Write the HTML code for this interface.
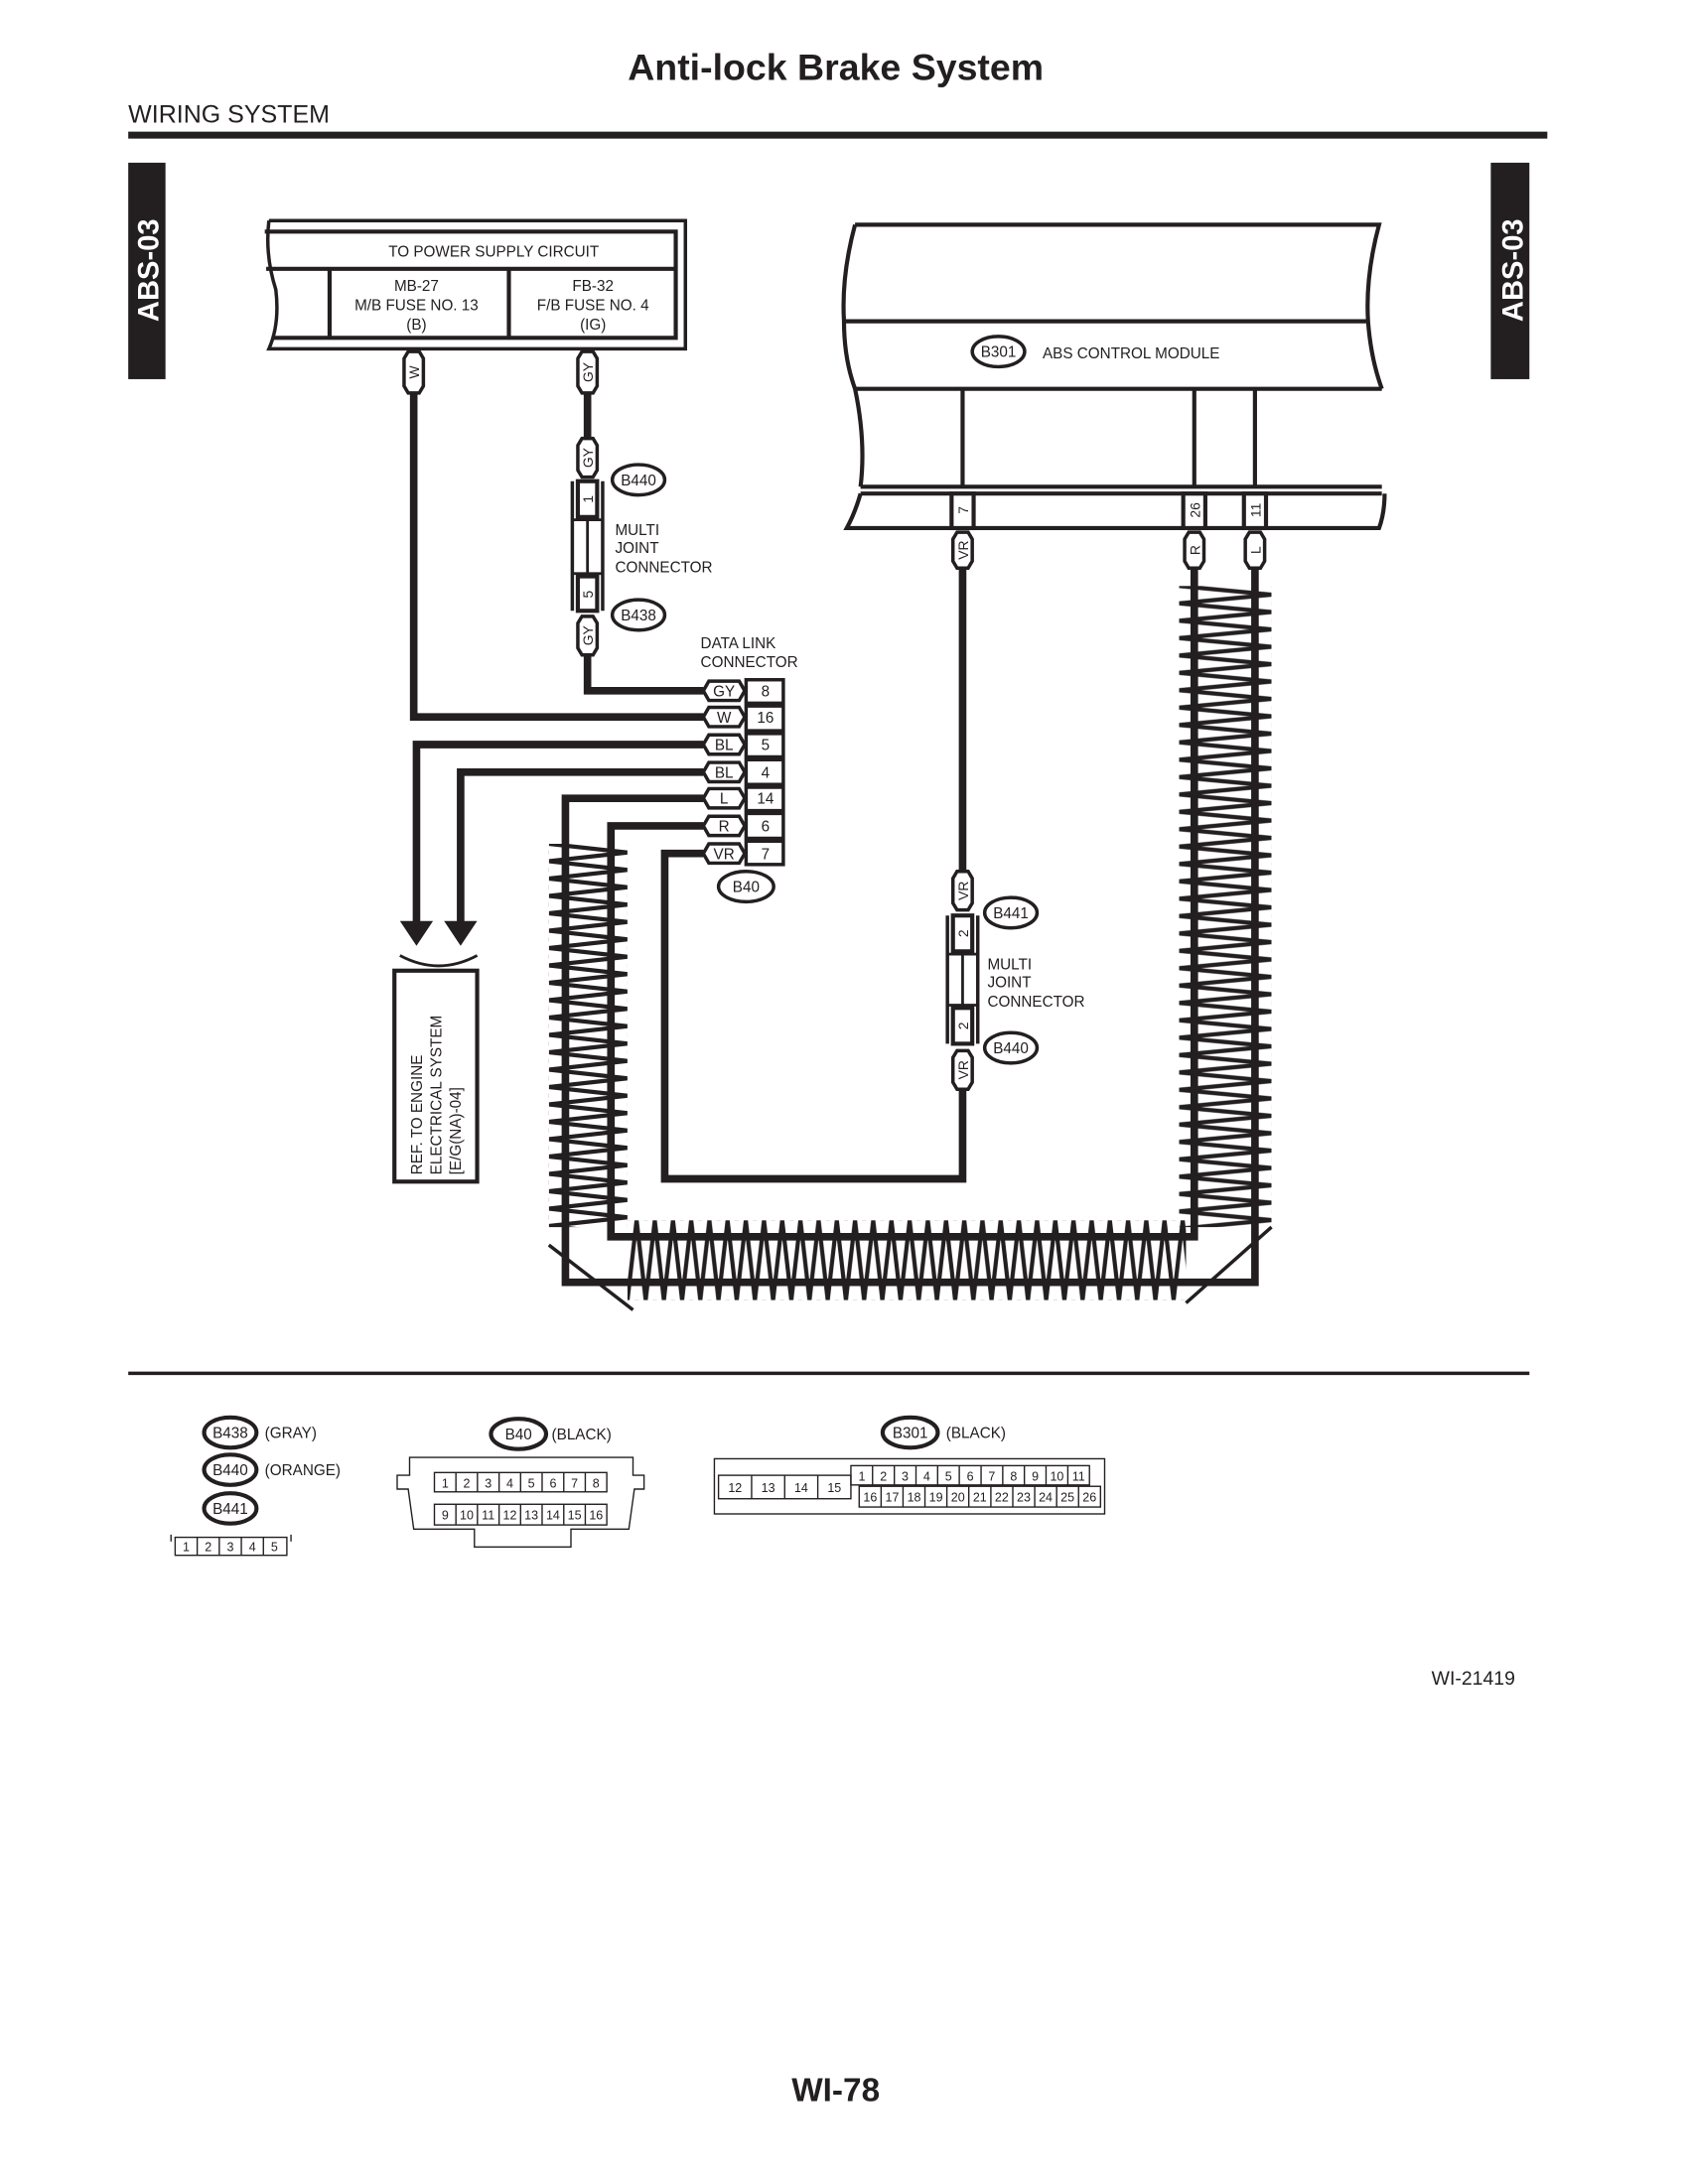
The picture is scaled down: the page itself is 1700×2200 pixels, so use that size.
<!DOCTYPE html>
<html><head><meta charset="utf-8"><style>
html,body{margin:0;padding:0;background:#fff}
svg{display:block}
text{font-family:"Liberation Sans",Arial,sans-serif;fill:#231f20}
</style></head><body>
<svg width="1700" height="2200" viewBox="0 0 1224 1584" xmlns="http://www.w3.org/2000/svg">
<defs>
<pattern id="zv" patternUnits="userSpaceOnUse" x="398" y="612" width="57" height="12.6">
<path d="M0,0 L57,6.3 L0,12.6" fill="none" stroke="#231f20" stroke-width="3"/>
</pattern>
<pattern id="zv2" patternUnits="userSpaceOnUse" x="855" y="425" width="67" height="12.6">
<path d="M0,0 L67,6.3 L0,12.6" fill="none" stroke="#231f20" stroke-width="3"/>
</pattern>
<pattern id="zh" patternUnits="userSpaceOnUse" x="455" y="885" width="13.2" height="58">
<path d="M0,58 L6.6,0 L13.2,58" fill="none" stroke="#231f20" stroke-width="3"/>
</pattern>
</defs>
<g fill="none" stroke="#231f20">
<!-- header -->
<line x1="93" y1="98" x2="1122" y2="98" stroke-width="5"/>
</g>
<text x="606" y="58" font-size="27" font-weight="bold" text-anchor="middle">Anti-lock Brake System</text>
<text x="93" y="89" font-size="18">WIRING SYSTEM</text>
<rect x="93" y="118" width="27" height="157" fill="#231f20"/>
<rect x="1081" y="118" width="28" height="157" fill="#231f20"/>
<text transform="translate(115,196) rotate(-90)" font-size="21" font-weight="bold" text-anchor="middle" style="fill:#fff">ABS-03</text>
<text transform="translate(1104,196) rotate(-90)" font-size="21" font-weight="bold" text-anchor="middle" style="fill:#fff">ABS-03</text>

<!-- zigzags -->
<rect x="398" y="612" width="57" height="278" fill="url(#zv)"/>
<rect x="855" y="425" width="67" height="465" fill="url(#zv2)"/>
<rect x="455" y="885" width="405" height="58" fill="url(#zh)"/>

<g fill="none" stroke="#231f20" stroke-linejoin="miter">
<!-- power box -->
<path d="M195,160 L497,160 L497,253 L195,253 Q203,235 200,210 Q192,185 195,160" stroke-width="2.5"/>
<path d="M192,168 L490,168 L490,245 L197,245" stroke-width="3"/>
<line x1="193" y1="195" x2="490" y2="195" stroke-width="3"/>
<line x1="239" y1="195" x2="239" y2="245" stroke-width="3"/>
<line x1="369" y1="195" x2="369" y2="245" stroke-width="3"/>

<!-- module -->
<path d="M620,163 L1000,163 Q990,200 992,233 Q994,260 1002,282" stroke-width="3"/>
<path d="M620,163 Q610,200 612,233 Q612,260 620,282 Q628,320 624,353" stroke-width="3"/>
<line x1="612" y1="233" x2="992" y2="233" stroke-width="3"/>
<line x1="620" y1="282" x2="1002" y2="282" stroke-width="3"/>
<line x1="624" y1="353" x2="1002" y2="353" stroke-width="3"/>
<line x1="624" y1="358" x2="1002" y2="358" stroke-width="3"/>
<path d="M624,358 Q620,372 614,383 L1000,383 Q1004,372 1004,358" stroke-width="3"/>
<line x1="698" y1="282" x2="698" y2="353" stroke-width="3"/>
<line x1="866" y1="282" x2="866" y2="353" stroke-width="3"/>
<line x1="910" y1="282" x2="910" y2="353" stroke-width="3"/>
<rect x="690" y="358" width="16" height="25" stroke-width="3" fill="#fff"/>
<rect x="858" y="358" width="16" height="25" stroke-width="3" fill="#fff"/>
<rect x="902" y="358" width="16" height="25" stroke-width="3" fill="#fff"/>

<!-- wires -->
<g stroke-width="5.5">
<polyline points="300,285 300,520 510,520"/>
<polyline points="426,285 426,318"/>
<polyline points="426,475 426,501 510,501"/>
<polyline points="510,540 302,540 302,672"/>
<polyline points="510,560 334,560 334,672"/>
<polyline points="510,579 410,579 410,930 910,930 910,412"/>
<polyline points="510,599 443,599 443,897 866,897 866,412"/>
<polyline points="510,619 482,619 482,855 698,855 698,790"/>
<polyline points="698,412 698,632"/>
</g>
<!-- corner diagonals -->
<line x1="398" y1="903" x2="459" y2="950" stroke-width="2.5"/>
<line x1="922" y1="890" x2="860" y2="945" stroke-width="2.5"/>

<!-- arrows & ref box -->
<path d="M290,693 Q318,708 346,693" stroke-width="2"/>
<rect x="286" y="704" width="60" height="153" stroke-width="3"/>

<!-- multi joint connector 1 -->
<line x1="415" y1="349" x2="415" y2="443" stroke-width="2.5"/>
<line x1="437" y1="349" x2="437" y2="443" stroke-width="2.5"/>
<rect x="419" y="349" width="14" height="26" stroke-width="3" fill="#fff"/>
<rect x="419" y="418" width="14" height="25" stroke-width="3" fill="#fff"/>
<line x1="415" y1="377" x2="437" y2="377" stroke-width="2"/>
<line x1="415" y1="416" x2="437" y2="416" stroke-width="2"/>
<line x1="426" y1="377" x2="426" y2="416" stroke-width="2"/>
<!-- multi joint connector 2 -->
<line x1="687" y1="664" x2="687" y2="757" stroke-width="2.5"/>
<line x1="709" y1="664" x2="709" y2="757" stroke-width="2.5"/>
<rect x="691" y="664" width="14" height="26" stroke-width="3" fill="#fff"/>
<rect x="691" y="731" width="14" height="26" stroke-width="3" fill="#fff"/>
<line x1="687" y1="692" x2="709" y2="692" stroke-width="2"/>
<line x1="687" y1="729" x2="709" y2="729" stroke-width="2"/>
<line x1="698" y1="692" x2="698" y2="729" stroke-width="2"/>

<!-- vertical pills -->
<g stroke-width="2.5" fill="#fff">
<path d="M293,260 L296,255 L304,255 L307,260 L307,280 L304,285 L296,285 L293,280 Z"/>
<path d="M419,260 L422,255 L430,255 L433,260 L433,280 L430,285 L422,285 L419,280 Z"/>
<path d="M419,323 L422,318 L430,318 L433,323 L433,341 L430,346 L422,346 L419,341 Z"/>
<path d="M419,452 L422,447 L430,447 L433,452 L433,470 L430,475 L422,475 L419,470 Z"/>
<path d="M691,391 L694,386 L702,386 L705,391 L705,407 L702,412 L694,412 L691,407 Z"/>
<path d="M859,391 L862,386 L870,386 L873,391 L873,407 L870,412 L862,412 L859,407 Z"/>
<path d="M903,391 L906,386 L914,386 L917,391 L917,407 L914,412 L906,412 L903,407 Z"/>
<path d="M691,637 L694,632 L702,632 L705,637 L705,655 L702,660 L694,660 L691,655 Z"/>
<path d="M691,767 L694,762 L702,762 L705,767 L705,785 L702,790 L694,790 L691,785 Z"/>
</g>

<!-- data link connector -->
<g stroke-width="2.5" fill="#fff">
<path d="M510,501 L514,494 L536,494 L540,501 L536,508 L514,508 Z"/>
<path d="M510,520 L514,513 L536,513 L540,520 L536,527 L514,527 Z"/>
<path d="M510,540 L514,533 L536,533 L540,540 L536,547 L514,547 Z"/>
<path d="M510,560 L514,553 L536,553 L540,560 L536,567 L514,567 Z"/>
<path d="M510,579 L514,572 L536,572 L540,579 L536,586 L514,586 Z"/>
<path d="M510,599 L514,592 L536,592 L540,599 L536,606 L514,606 Z"/>
<path d="M510,619 L514,612 L536,612 L540,619 L536,626 L514,626 Z"/>
</g>
<rect x="541" y="493" width="27" height="134" stroke-width="2.5" fill="#fff"/>
<g stroke-width="2.5">
<line x1="541" y1="510" x2="568" y2="510"/><line x1="541" y1="512" x2="568" y2="512"/>
<line x1="541" y1="530" x2="568" y2="530"/><line x1="541" y1="532" x2="568" y2="532"/>
<line x1="541" y1="549" x2="568" y2="549"/><line x1="541" y1="551" x2="568" y2="551"/>
<line x1="541" y1="569" x2="568" y2="569"/><line x1="541" y1="571" x2="568" y2="571"/>
<line x1="541" y1="588" x2="568" y2="588"/><line x1="541" y1="590" x2="568" y2="590"/>
<line x1="541" y1="608" x2="568" y2="608"/><line x1="541" y1="610" x2="568" y2="610"/>
</g>

<!-- ovals -->
<g stroke-width="2.5">
<ellipse cx="463" cy="348" rx="19" ry="11"/>
<ellipse cx="463" cy="446" rx="19" ry="11"/>
<ellipse cx="541" cy="643" rx="20" ry="11"/>
<ellipse cx="733" cy="662" rx="19" ry="11"/>
<ellipse cx="733" cy="760" rx="19" ry="11"/>
<ellipse cx="724" cy="255" rx="19" ry="11"/>
<ellipse cx="167" cy="1039" rx="19" ry="11" stroke-width="3"/>
<ellipse cx="167" cy="1066" rx="19" ry="11" stroke-width="3"/>
<ellipse cx="167" cy="1094" rx="19" ry="11" stroke-width="3"/>
<ellipse cx="376" cy="1040" rx="20" ry="11" stroke-width="3"/>
<ellipse cx="660" cy="1039" rx="20" ry="11" stroke-width="3"/>
</g>

<!-- bottom separator -->
<line x1="93" y1="996" x2="1109" y2="996" stroke-width="2.5"/>

<!-- legend connectors -->
<g stroke-width="1">
<path d="M127,1115 L208,1115 L208,1128 L127,1128 Z"/>
<line x1="143" y1="1115" x2="143" y2="1128"/><line x1="159" y1="1115" x2="159" y2="1128"/>
<line x1="175" y1="1115" x2="175" y2="1128"/><line x1="191" y1="1115" x2="191" y2="1128"/>
<line x1="124" y1="1113" x2="124" y2="1118"/><line x1="211" y1="1113" x2="211" y2="1118"/>

<path d="M297,1057 L459,1057 L459,1070 L467,1070 L467,1080 L460,1080 L456,1109 L414,1109 L414,1122 L344,1122 L344,1109 L300,1109 L296,1080 L288,1080 L288,1070 L297,1070 Z"/>
<rect x="315" y="1068" width="125" height="14"/>
<rect x="315" y="1091" width="125" height="15"/>
<line x1="330.6" y1="1068" x2="330.6" y2="1082"/><line x1="346.2" y1="1068" x2="346.2" y2="1082"/>
<line x1="361.9" y1="1068" x2="361.9" y2="1082"/><line x1="377.5" y1="1068" x2="377.5" y2="1082"/>
<line x1="393.1" y1="1068" x2="393.1" y2="1082"/><line x1="408.8" y1="1068" x2="408.8" y2="1082"/>
<line x1="424.4" y1="1068" x2="424.4" y2="1082"/>
<line x1="330.6" y1="1091" x2="330.6" y2="1106"/><line x1="346.2" y1="1091" x2="346.2" y2="1106"/>
<line x1="361.9" y1="1091" x2="361.9" y2="1106"/><line x1="377.5" y1="1091" x2="377.5" y2="1106"/>
<line x1="393.1" y1="1091" x2="393.1" y2="1106"/><line x1="408.8" y1="1091" x2="408.8" y2="1106"/>
<line x1="424.4" y1="1091" x2="424.4" y2="1106"/>

<rect x="518" y="1058" width="283" height="40"/>
<rect x="521" y="1070" width="96" height="17"/>
<line x1="545" y1="1070" x2="545" y2="1087"/><line x1="569" y1="1070" x2="569" y2="1087"/><line x1="593" y1="1070" x2="593" y2="1087"/>
<rect x="617" y="1063" width="173" height="14"/>
<rect x="623" y="1078" width="175" height="15"/>
<line x1="632.7" y1="1063" x2="632.7" y2="1077"/><line x1="648.5" y1="1063" x2="648.5" y2="1077"/>
<line x1="664.2" y1="1063" x2="664.2" y2="1077"/><line x1="679.9" y1="1063" x2="679.9" y2="1077"/>
<line x1="695.6" y1="1063" x2="695.6" y2="1077"/><line x1="711.4" y1="1063" x2="711.4" y2="1077"/>
<line x1="727.1" y1="1063" x2="727.1" y2="1077"/><line x1="742.8" y1="1063" x2="742.8" y2="1077"/>
<line x1="758.5" y1="1063" x2="758.5" y2="1077"/><line x1="774.3" y1="1063" x2="774.3" y2="1077"/>
<line x1="638.9" y1="1078" x2="638.9" y2="1093"/><line x1="654.8" y1="1078" x2="654.8" y2="1093"/>
<line x1="670.7" y1="1078" x2="670.7" y2="1093"/><line x1="686.6" y1="1078" x2="686.6" y2="1093"/>
<line x1="702.5" y1="1078" x2="702.5" y2="1093"/><line x1="718.5" y1="1078" x2="718.5" y2="1093"/>
<line x1="734.4" y1="1078" x2="734.4" y2="1093"/><line x1="750.3" y1="1078" x2="750.3" y2="1093"/>
<line x1="766.2" y1="1078" x2="766.2" y2="1093"/><line x1="782.1" y1="1078" x2="782.1" y2="1093"/>
</g>
</g>
<!-- arrowheads -->
<path d="M290,668 L314,668 L302,686 Z M322,668 L346,668 L334,686 Z" fill="#231f20"/>

<!-- texts -->
<g font-size="11" text-anchor="middle">
<text x="358" y="186">TO POWER SUPPLY CIRCUIT</text>
<text x="302" y="211">MB-27</text>
<text x="302" y="225">M/B FUSE NO. 13</text>
<text x="302" y="239">(B)</text>
<text x="430" y="211">FB-32</text>
<text x="430" y="225">F/B FUSE NO. 4</text>
<text x="430" y="239">(IG)</text>
</g>
<g font-size="10" text-anchor="middle">
<text transform="translate(304,270) rotate(-90)">W</text>
<text transform="translate(430,270) rotate(-90)">GY</text>
<text transform="translate(430,332) rotate(-90)">GY</text>
<text transform="translate(430,362) rotate(-90)">1</text>
<text transform="translate(430,431) rotate(-90)">5</text>
<text transform="translate(430,461) rotate(-90)">GY</text>
<text transform="translate(702,370) rotate(-90)">7</text>
<text transform="translate(870,370) rotate(-90)">26</text>
<text transform="translate(914,370) rotate(-90)">11</text>
<text transform="translate(702,399) rotate(-90)">VR</text>
<text transform="translate(870,399) rotate(-90)">R</text>
<text transform="translate(914,399) rotate(-90)">L</text>
<text transform="translate(702,646) rotate(-90)">VR</text>
<text transform="translate(702,677) rotate(-90)">2</text>
<text transform="translate(702,744) rotate(-90)">2</text>
<text transform="translate(702,776) rotate(-90)">VR</text>
</g>
<g font-size="11" text-anchor="middle">
<text x="525" y="505">GY</text><text x="555" y="505">8</text>
<text x="525" y="524">W</text><text x="555" y="524">16</text>
<text x="525" y="544">BL</text><text x="555" y="544">5</text>
<text x="525" y="564">BL</text><text x="555" y="564">4</text>
<text x="525" y="583">L</text><text x="555" y="583">14</text>
<text x="525" y="603">R</text><text x="555" y="603">6</text>
<text x="525" y="623">VR</text><text x="555" y="623">7</text>
<text x="463" y="352">B440</text>
<text x="463" y="450">B438</text>
<text x="541" y="647">B40</text>
<text x="733" y="666">B441</text>
<text x="733" y="764">B440</text>
<text x="724" y="259">B301</text>
</g>
<g font-size="11">
<text x="446" y="388">MULTI</text>
<text x="446" y="401">JOINT</text>
<text x="446" y="415">CONNECTOR</text>
<text x="716" y="703">MULTI</text>
<text x="716" y="716">JOINT</text>
<text x="716" y="730">CONNECTOR</text>
<text x="508" y="470">DATA LINK</text>
<text x="508" y="484">CONNECTOR</text>
<text x="756" y="260">ABS CONTROL MODULE</text>
<text transform="translate(306,852) rotate(-90)">REF. TO ENGINE</text>
<text transform="translate(320,852) rotate(-90)">ELECTRICAL SYSTEM</text>
<text transform="translate(334,852) rotate(-90)">[E/G(NA)-04]</text>
</g>
<g font-size="11">
<text x="167" y="1043" text-anchor="middle">B438</text>
<text x="167" y="1070" text-anchor="middle">B440</text>
<text x="167" y="1098" text-anchor="middle">B441</text>
<text x="192" y="1043">(GRAY)</text>
<text x="192" y="1070">(ORANGE)</text>
<text x="376" y="1044" text-anchor="middle">B40</text>
<text x="400" y="1044">(BLACK)</text>
<text x="660" y="1043" text-anchor="middle">B301</text>
<text x="686" y="1043">(BLACK)</text>
</g>
<g font-size="9" text-anchor="middle">
<text x="135" y="1125">1</text><text x="151" y="1125">2</text><text x="167" y="1125">3</text><text x="183" y="1125">4</text><text x="199" y="1125">5</text>
<text x="322.8" y="1079">1</text><text x="338.4" y="1079">2</text><text x="354" y="1079">3</text><text x="369.7" y="1079">4</text><text x="385.3" y="1079">5</text><text x="401" y="1079">6</text><text x="416.6" y="1079">7</text><text x="432.2" y="1079">8</text>
<text x="322.8" y="1102">9</text><text x="338.4" y="1102">10</text><text x="354" y="1102">11</text><text x="369.7" y="1102">12</text><text x="385.3" y="1102">13</text><text x="401" y="1102">14</text><text x="416.6" y="1102">15</text><text x="432.2" y="1102">16</text>
<text x="533" y="1082">12</text><text x="557" y="1082">13</text><text x="581" y="1082">14</text><text x="605" y="1082">15</text>
<text x="624.9" y="1074">1</text><text x="640.6" y="1074">2</text><text x="656.3" y="1074">3</text><text x="672" y="1074">4</text><text x="687.8" y="1074">5</text><text x="703.5" y="1074">6</text><text x="719.2" y="1074">7</text><text x="735" y="1074">8</text><text x="750.7" y="1074">9</text><text x="766.4" y="1074">10</text><text x="782.1" y="1074">11</text>
<text x="631" y="1089">16</text><text x="646.9" y="1089">17</text><text x="662.8" y="1089">18</text><text x="678.7" y="1089">19</text><text x="694.6" y="1089">20</text><text x="710.5" y="1089">21</text><text x="726.4" y="1089">22</text><text x="742.3" y="1089">23</text><text x="758.2" y="1089">24</text><text x="774.1" y="1089">25</text><text x="790" y="1089">26</text>
</g>
<text x="1038" y="1222" font-size="14">WI-21419</text>
<text x="606" y="1524" font-size="24" font-weight="bold" text-anchor="middle">WI-78</text>
</svg>
</body></html>
